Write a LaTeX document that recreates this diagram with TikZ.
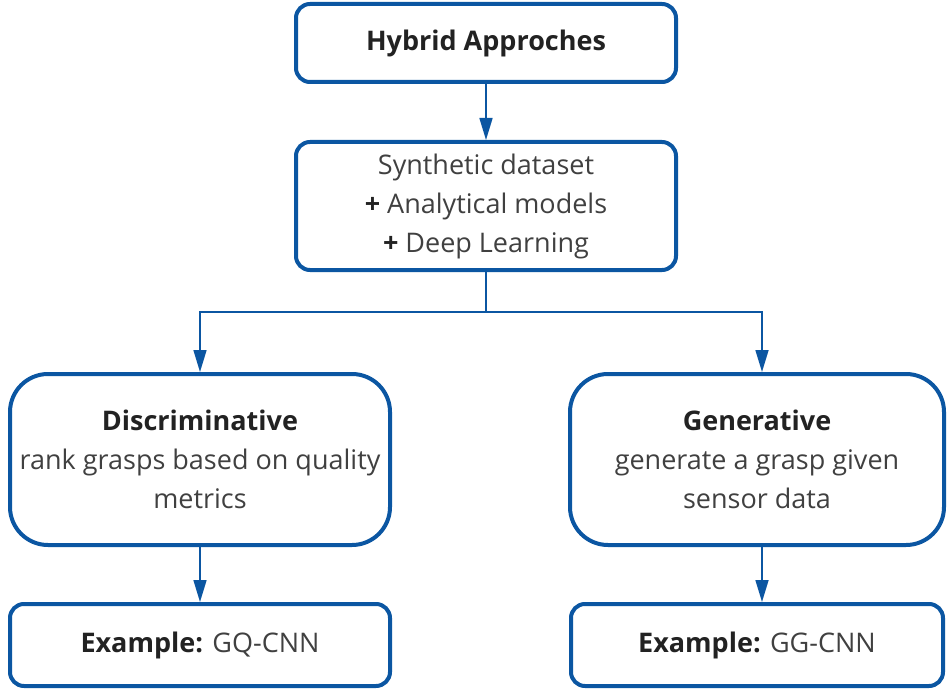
\documentclass[tikz,border=0pt]{standalone}
\usepackage{fontspec}
\setmainfont{Open Sans}
\usetikzlibrary{positioning,arrows.meta}
\definecolor{boxblue}{HTML}{0B56A2}
\definecolor{txtgray}{HTML}{404040}
\definecolor{txtdark}{HTML}{222222}
\newcommand{\bhead}[1]{\textcolor{txtdark}{\textbf{#1}}}

\begin{document}
\begin{tikzpicture}[x=1pt,y=1pt,
	box/.style={draw=boxblue, line width=4pt, rounded corners=14pt, align=center, text=txtgray, font=\fontsize{27}{39}\selectfont, inner sep=0pt},
	link/.style={draw=boxblue, line width=1.6pt, -{Triangle[length=22pt,width=13pt]}}]
		\useasboundingbox (0,0) rectangle (948,-690);
		\node[box, minimum width=380pt, minimum height=78pt] (hyb) at (486,-43) {\bhead{Hybrid Approches}};
		\node[box, minimum width=380pt, minimum height=128pt, below=56pt of hyb] (synth) {Synthetic dataset\\ \bhead{+} Analytical models\\ \bhead{+} Deep Learning};
		\node[box, rounded corners=38pt, minimum width=380pt, minimum height=171pt] (disc) at (200,-459.5) {\bhead{Discriminative}\\ rank grasps based on quality\\ metrics};
		\node[box, rounded corners=38pt, minimum width=374pt, minimum height=171pt] (gen) at (757,-459.5) {\bhead{Generative}\\ generate a grasp given\\ sensor data};
		\node[box, minimum width=380pt, minimum height=82pt, below=55pt of disc] (exq) {\bhead{Example:} GQ-CNN};
		\node[box, minimum width=372pt, minimum height=82pt, below=55pt of gen] (exg) {\bhead{Example:} GG-CNN};
		\coordinate[below=40pt of synth] (split);
		
		\draw[link] (hyb.south)--(synth.north);
		\draw[boxblue, line width=1.6pt] (synth.south)--(split);
		\draw[link] (split)-|(disc.north);
		\draw[link] (split)-|([xshift=5pt]gen.north);
		\draw[link] (disc.south)--(exq.north);
		\draw[link] ([xshift=5pt]gen.south)--([xshift=5pt]exg.north);
	\end{tikzpicture}
\end{document}
